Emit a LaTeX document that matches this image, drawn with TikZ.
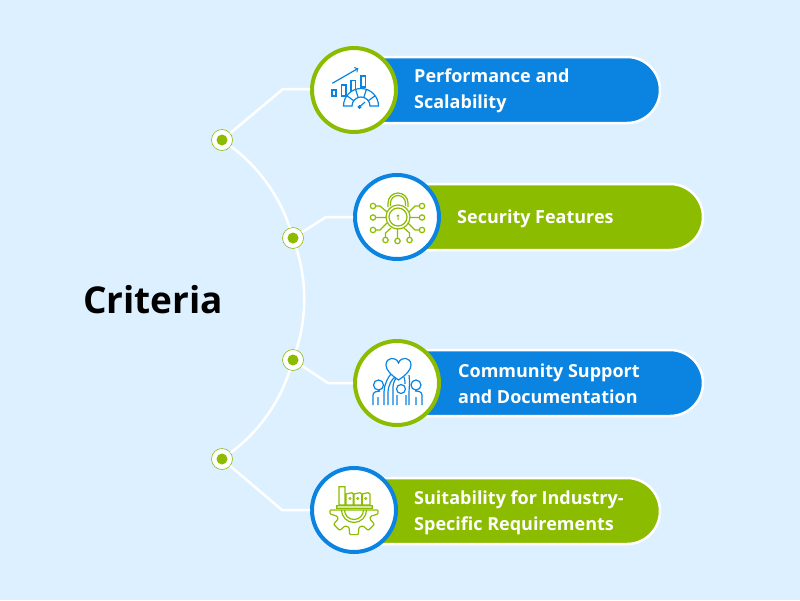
\documentclass[tikz,border=0pt]{standalone}
\usepackage{fontspec}
\setmainfont{Open Sans}
\usetikzlibrary{shapes.misc,calc}
\definecolor{skybg}{HTML}{DDF0FF}
\definecolor{pillblue}{HTML}{0A84E0}
\definecolor{pillgreen}{HTML}{8CBC00}
\tikzset{
  pill/.style={rounded rectangle,rounded rectangle west arc=none,draw=white,line width=2.5pt,minimum height=66pt,minimum width=286pt,inner sep=0pt},
  iconring/.style={circle,fill=white,line width=4pt,minimum size=84pt,inner sep=0pt},
  dotring/.style={circle,fill=white,draw=pillgreen,line width=0.6pt,minimum size=21pt,inner sep=0pt},
  dotcore/.style={circle,fill=pillgreen,minimum size=11pt,inner sep=0pt},
  link/.style={draw=white,line width=2.5pt},
  pilltext/.style={anchor=west,align=left,inner sep=0pt,text=white,font=\fontsize{18}{26}\selectfont\bfseries},
  chart icon/.pic={
    \draw[pillblue,line width=1.2pt,->] (-21.7,-6.7) -- (4.3,-21.7);
    \draw[pillblue,line width=1.2pt]
      (-22,0) rectangle (-18,6) (-12.3,-5) rectangle (-8,6)
      (-3,-9.3) rectangle (1.7,2) (7,-14) rectangle (11.7,-3);
    \fill[white] (-10.5,16) arc[start angle=180,end angle=360,radius=17.5] -- cycle;
    \draw[pillblue,line width=1.2pt]
      (-10.5,16) arc[start angle=180,end angle=360,radius=17.5] -- (16,16)
      arc[start angle=0,end angle=-180,radius=9] -- cycle;
    \foreach \a in {216,252,288,324}
      \draw[pillblue,line width=1.2pt] ($(7,16)+(\a:9)$) -- ($(7,16)+(\a:17.5)$);
    \draw[pillblue,line width=1.2pt] (5.5,17) circle (1.3) (6.5,16) -- (11,12);
  },
  lock icon/.pic={
    \draw[pillgreen,line width=1.2pt]
      (-9,-10) -- (-9,-14) arc[start angle=180,end angle=360,radius=10] -- (11,-10)
      (-6.5,-11) -- (-6.5,-14) arc[start angle=180,end angle=360,radius=7.5] -- (8.5,-11);
    \fill[white] (1,0) circle (12);
    \draw[pillgreen,line width=1.2pt] (1,0) circle (12) (1,0) circle (9);
    \fill[pillgreen] (1,-1) circle (1.6) (0.5,-1) rectangle (1.5,3);
    \foreach \a/\b in {-24/-11,-24/0.5,-24/13,-11.5/23,0.5/24,12.5/23,25/-11,25/0.5,25/13}
      \draw[pillgreen,line width=1.2pt] (\a,\b) circle (2.7);
    \draw[pillgreen,line width=1.2pt]
      (-21.3,-11) -- (-17,-11) -- (-10,-5)
      (-21.3,0.5) -- (-11,0.5)
      (-21.3,13) -- (-17,13) -- (-10,6)
      (-11.5,20.3) -- (-11.5,16) -- (-6,11)
      (0.5,21.3) -- (0.5,12)
      (12.5,20.3) -- (12.5,16) -- (7,11)
      (22.3,-11) -- (18,-11) -- (12,-5)
      (22.3,0.5) -- (13,0.5)
      (22.3,13) -- (18,13) -- (11,6);
  },
  heart icon/.pic={
    \draw[pillblue,line width=1.2pt]
      (1.5,-3) .. controls (-6,-8) and (-11,-13) .. (-11,-18)
      .. controls (-11,-26) and (-1,-27) .. (1.5,-20)
      .. controls (4,-27) and (14,-26) .. (14,-18)
      .. controls (14,-13) and (9,-8) .. (1.5,-3) -- cycle;
    \draw[pillblue,line width=1.2pt]
      (-18.5,2) circle (5) (19,2) circle (5) (4,6) circle (4.5)
      (-24,22) -- (-24,12) .. controls (-24,9) and (-20,8) .. (-17,8)
      (-19,22) -- (-19,14)
      (-13,22) -- (-13,9) .. controls (-13,2) and (-9,-6) .. (-6,-9)
      (-9,22) -- (-9,10) .. controls (-9,2) and (-5,-4) .. (-2,-6)
      (-4,22) -- (-4,4) .. controls (-4,0) and (-2,-3) .. (-1,-5)
      (0,22) -- (0,12)
      (9,22) -- (9,12)
      (8,1) .. controls (8,-1) and (8,-3) .. (7,-6)
      (12,22) -- (12,10) .. controls (12,6) and (13,0) .. (12,-8)
      (19,22) -- (19,14)
      (25,22) -- (25,12) .. controls (25,9) and (22,8) .. (18,8);
  },
  gear icon/.pic={
    \draw[pillgreen,line width=1.2pt]
      (-15,-23.3) rectangle (-9,-5)
      (-8,-16) -- (-2,-17.3) -- (-0.7,-16) -- (-0.7,-5) -- (-8,-5) -- cycle
      (0,-16) -- (6,-17.3) -- (7.7,-16) -- (7.7,-5) -- (0,-5) -- cycle
      (8.3,-16) -- (14,-17.3) -- (16,-16) -- (16,-5) -- (8.3,-5) -- cycle
      (-17.3,-4.3) rectangle (18.3,-1.7)
      (-12.5,0) arc[start angle=180,end angle=0,radius=12.5]
      (-9.5,0) arc[start angle=180,end angle=0,radius=9.5];
    \draw[pillgreen,line width=1.2pt,rounded corners=1pt]
      (-24,0) -- (24,0) -- (24,4) -- (20:18) -- (29:18) -- (35:25) -- (55:25) -- (61:18)
      -- (74:18) -- (80:25) -- (100:25) -- (106:18) -- (119:18) -- (125:25) -- (145:25)
      -- (151:18) -- (160:18) -- (-24,4) -- cycle;
    \foreach \a in {-4,3.7,11.7}
      \draw[pillgreen,line width=0.8pt] (\a,-11.5) circle (1.1);
  }
}
\begin{document}
\begin{tikzpicture}[x=1pt,y=-1pt]

% Define background
\fill[skybg] (0,0) rectangle (800,600);
\useasboundingbox (0,0) rectangle (800,600);

% Define pills
\node[pill,fill=pillblue] (pillA) at (517,90) {};
\node[pill,fill=pillgreen] (pillB) at (560,217) {};
\node[pill,fill=pillblue] (pillC) at (560,383) {};
\node[pill,fill=pillgreen] (pillD) at (517,511) {};

% Define icons
\node[iconring,draw=pillgreen] (iconA) at (354,90) {};
\node[iconring,draw=pillblue] (iconB) at (397,217) {};
\node[iconring,draw=pillgreen] (iconC) at (397,383) {};
\node[iconring,draw=pillblue] (iconD) at (354,510) {};
\pic at (iconA) {chart icon};
\pic at (iconB) {lock icon};
\pic at (iconC) {heart icon};
\pic at (iconD) {gear icon};

% Define labels
\node[pilltext] (textA) at (414,91) {Performance and\\Scalability};
\node[pilltext] (textB) at (457,219) {Security Features};
\node[pilltext] (textC) at (458,384) {Community Support\\and Documentation};
\node[pilltext] (textD) at (414,513) {Suitability for Industry-\\Specific Requirements};
\node[anchor=west,inner sep=0pt,font=\fontsize{37}{40}\selectfont\bfseries,text=black] (title) at (83,300) {Criteria};

% Define vertices
\node[dotring] (dotA) at (222,140) {};
\node[dotring] (dotB) at (293,238) {};
\node[dotring] (dotC) at (293,360) {};
\node[dotring] (dotD) at (222,459) {};
\node[dotcore] at (dotA) {};
\node[dotcore] at (dotB) {};
\node[dotcore] at (dotC) {};
\node[dotcore] at (dotD) {};
\coordinate (bendA) at (283,89);
\coordinate (bendB) at (326,217);
\coordinate (bendC) at (328,383);
\coordinate (bendD) at (282,510);

% Draw edges
\path[link]
  (dotA) edge[bend left=18,looseness=0.86] (dotB)
  (dotB) edge[bend left=18,looseness=0.86] (dotC)
  (dotC) edge[bend left=18,looseness=0.86] (dotD);
\draw[link] (dotA) -- (bendA) -- (iconA.west |- bendA);
\draw[link] (dotB) -- (bendB) -- (iconB.west |- bendB);
\draw[link] (dotC) -- (bendC) -- (iconC.west |- bendC);
\draw[link] (dotD) -- (bendD) -- (iconD.west |- bendD);

\end{tikzpicture}
\end{document}
